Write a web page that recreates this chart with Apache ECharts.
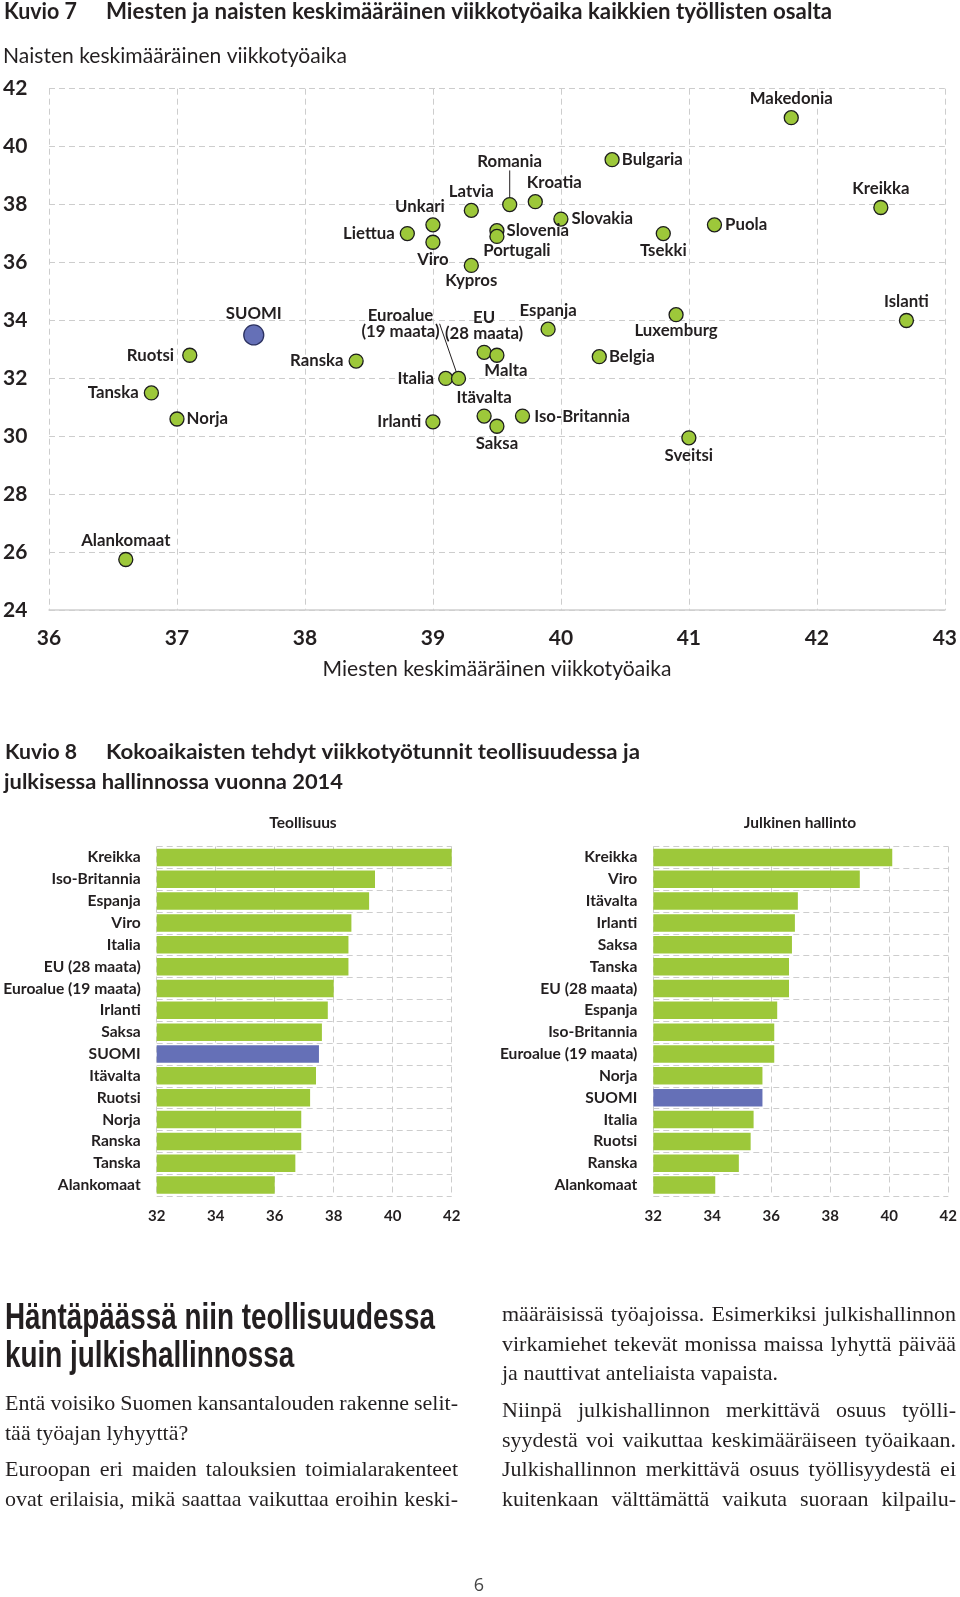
<!DOCTYPE html>
<html>
<head>
<meta charset="utf-8">
<script src="https://cdn.jsdelivr.net/npm/echarts@6/dist/echarts.min.js"></script>
<style>
html, body { margin: 0; padding: 0; background: #fff; }
#page { position: relative; width: 960px; height: 1597px; overflow: hidden; }
#chart { position: absolute; left: 0; top: 0; width: 960px; height: 1597px; }
#article { position: absolute; left: 0; top: 0; width: 960px; height: 1597px; pointer-events: none; }
.ln { position: absolute; white-space: nowrap; color: #231f20; }
</style>
</head>
<body>
<div id="page">
  <div id="chart"></div>
  <div id="article"></div>
</div>
<script>
// ---------------- DATA ----------------
// Kuvio 7: men's (x) and women's (y) average weekly hours
const scatterNames = ['Makedonia','Bulgaria','Kreikka','Romania','Kroatia','Latvia','Unkari','Slovakia','Slovenia','Liettua',
  'Puola','Portugali','Tsekki','Viro','Kypros','Islanti','Luxemburg','SUOMI','Espanja','EU (28 maata)',
  'Euroalue (19 maata)','Ruotsi','Ranska','Malta','Belgia','Italia','Tanska','Itävalta','Iso-Britannia','Norja',
  'Irlanti','Saksa','Sveitsi','Alankomaat'];
const menWeeklyHours = [41.8,40.4,42.5,39.6,39.8,39.3,39.0,40.0,39.5,38.8,
  41.2,39.5,40.8,39.0,39.3,42.7,40.9,37.6,39.9,39.4,
  39.2,37.1,38.4,39.5,40.3,39.1,36.8,39.4,39.7,37.0,
  39.0,39.5,41.0,36.6];
const womenWeeklyHours = [41.0,39.55,37.9,38.0,38.1,37.8,37.3,37.5,37.1,37.0,
  37.3,36.9,37.0,36.7,35.9,34.0,34.2,33.5,33.7,32.9,
  32.0,32.8,32.6,32.8,32.75,32.0,31.5,30.7,30.7,30.6,
  30.5,30.35,29.95,25.75];
const scatterXTicks = { min: 36, max: 43, step: 1 };
const scatterYTicks = { min: 24, max: 42, step: 2 };

// Kuvio 8: weekly hours of full-time workers, 2014
const industryCountries = ['Kreikka','Iso-Britannia','Espanja','Viro','Italia','EU (28 maata)','Euroalue (19 maata)','Irlanti',
  'Saksa','SUOMI','Itävalta','Ruotsi','Norja','Ranska','Tanska','Alankomaat'];
const industryHours = [42.0,39.4,39.2,38.6,38.5,38.5,38.0,37.8,37.6,37.5,37.4,37.2,36.9,36.9,36.7,36.0];
const publicCountries = ['Kreikka','Viro','Itävalta','Irlanti','Saksa','Tanska','EU (28 maata)','Espanja',
  'Iso-Britannia','Euroalue (19 maata)','Norja','SUOMI','Italia','Ruotsi','Ranska','Alankomaat'];
const publicHours = [40.1,39.0,36.9,36.8,36.7,36.6,36.6,36.2,36.1,36.1,35.7,35.7,35.4,35.3,34.9,34.1];
const barTicks = { min: 32, max: 42, step: 2 };

// Texts
const fig7Number = 'Kuvio 7';
const fig7Title = 'Miesten ja naisten keskimääräinen viikkotyöaika kaikkien työllisten osalta';
const fig7YName = 'Naisten keskimääräinen viikkotyöaika';
const fig7XName = 'Miesten keskimääräinen viikkotyöaika';
const fig8Number = 'Kuvio 8';
const fig8TitleLine1 = 'Kokoaikaisten tehdyt viikkotyötunnit teollisuudessa ja';
const fig8TitleLine2 = 'julkisessa hallinnossa vuonna 2014';
const fig8LeftTitle = 'Teollisuus';
const fig8RightTitle = 'Julkinen hallinto';
const pageNumber = '6';
const articleHeading = ['Häntäpäässä niin teollisuudessa', 'kuin julkishallinnossa'];
const leftParagraphs = [
  ['Entä voisiko Suomen kansantalouden rakenne selit-', 'tää työajan lyhyyttä?'],
  ['Euroopan eri maiden talouksien toimialarakenteet', 'ovat erilaisia, mikä saattaa vaikuttaa eroihin keski-']
];
const rightParagraphs = [
  ['määräisissä työajoissa. Esimerkiksi julkishallinnon', 'virkamiehet tekevät monissa maissa lyhyttä päivää', 'ja nauttivat anteliaista vapaista.'],
  ['Niinpä julkishallinnon merkittävä osuus työlli-', 'syydestä voi vaikuttaa keskimääräiseen työaikaan.',
   'Julkishallinnon merkittävä osuus työllisyydestä ei', 'kuitenkaan välttämättä vaikuta suoraan kilpailu-']
];

// ---------------- STYLE ----------------
const ink = '#231f20';
const green = '#9dc83a';
const blue = '#6570b7';
const gridColor = '#cdcdcd';
const sansFamily = 'Lato, "Noto Sans", sans-serif';
const highlight = 'SUOMI';

const labelText = { 'EU (28 maata)': 'EU\n(28 maata)', 'Euroalue (19 maata)': 'Euroalue\n(19 maata)' };
const labelPlacement = {
  'Makedonia': { pos: 'top' }, 'Bulgaria': { pos: 'right', dist: 2 }, 'Kreikka': { pos: 'top' },
  'Romania': { pos: 'top', leader: [0, -24] }, 'Kroatia': { pos: 'top', off: [19, 0] },
  'Latvia': { pos: 'top' }, 'Unkari': { pos: 'top', off: [-13, 0] }, 'Slovakia': { pos: 'right' },
  'Slovenia': { pos: 'right', dist: 2 }, 'Liettua': { pos: 'left', dist: 5 }, 'Puola': { pos: 'right' },
  'Portugali': { pos: 'bottom', off: [20, -5] }, 'Tsekki': { pos: 'bottom', off: [0, -2] }, 'Viro': { pos: 'bottom', off: [0, -1] },
  'Kypros': { pos: 'bottom', off: [0, -3] }, 'Islanti': { pos: 'top' }, 'Luxemburg': { pos: 'bottom', off: [0, -3] },
  'SUOMI': { pos: 'top' }, 'Espanja': { pos: 'top' }, 'EU (28 maata)': { pos: 'top' },
  'Euroalue (19 maata)': { pos: 'top', leader: [-58, -28] }, 'Ruotsi': { pos: 'left', dist: 8 },
  'Ranska': { pos: 'left', dist: 5 }, 'Malta': { pos: 'bottom', off: [9, -3] }, 'Belgia': { pos: 'right', dist: 2 },
  'Italia': { pos: 'left', dist: 4 }, 'Tanska': { pos: 'left', dist: 5 }, 'Itävalta': { pos: 'top' },
  'Iso-Britannia': { pos: 'right', dist: 4 }, 'Norja': { pos: 'right', dist: 2 }, 'Irlanti': { pos: 'left', dist: 4 },
  'Saksa': { pos: 'bottom', off: [0, -1] }, 'Sveitsi': { pos: 'bottom', off: [0, -1] }, 'Alankomaat': { pos: 'top' }
};

// ---------------- HELPERS ----------------
const mctx = document.createElement('canvas').getContext('2d');
function measure(text, font) { mctx.font = font; return mctx.measureText(text).width; }
function fittedText(text, font, x, y, targetW, align) {
  const s = targetW / measure(text, font);
  return { type: 'text', x: x, y: y, scaleX: s, silent: true,
    style: { text: text, font: font, fill: ink, align: align || 'left', verticalAlign: 'middle', x: 0, y: 0 } };
}

// ---------------- SCATTER DATA ----------------
const normalData = [], leaderData = [];
scatterNames.forEach((n, i) => {
  const p = labelPlacement[n] || { pos: 'top' };
  const item = {
    name: n, value: [menWeeklyHours[i], womenWeeklyHours[i]],
    label: { position: p.pos, offset: p.off || [0, 0], distance: p.dist != null ? p.dist : 3 }
  };
  if (n === highlight) { item.symbolSize = 20; item.itemStyle = { color: blue, borderColor: '#2b3160' }; }
  (p.leader ? leaderData : normalData).push(item);
});

const scatterLabel = {
  show: true, fontFamily: sansFamily, fontSize: 16.8, fontWeight: 'bold', color: ink, lineHeight: 16,
  formatter: p => labelText[p.name] || p.name
};

function barData(names, vals) {
  return vals.map((v, i) => ({ value: v, itemStyle: { color: names[i] === highlight ? blue : green } }));
}
const dashed = { color: gridColor, type: [6, 4], width: 1 };
function barValueAxis(gi) {
  return { gridIndex: gi, type: 'value', min: barTicks.min, max: barTicks.max, interval: barTicks.step, startValue: barTicks.min,
    axisLine: { show: false }, axisTick: { show: false }, splitLine: { show: true, lineStyle: dashed },
    axisLabel: { fontFamily: sansFamily, fontSize: 15, fontWeight: 'bold', color: ink, margin: 13 } };
}
function barCatAxis(gi, names) {
  return { gridIndex: gi, type: 'category', data: names, inverse: true,
    axisLine: { show: false }, axisTick: { show: false },
    splitLine: { show: true, interval: 0, lineStyle: dashed },
    axisLabel: { interval: 0, fontFamily: sansFamily, fontSize: 15.6, fontWeight: 'bold', color: ink, margin: 16 } };
}

// ---------------- GRAPHIC TEXTS ----------------
const graphics = [
  fittedText(fig7Number, 'bold 22px ' + sansFamily, 4, 12, 73),
  fittedText(fig7Title, 'bold 22px ' + sansFamily, 106, 12, 726),
  fittedText(fig7YName, '22px ' + sansFamily, 3, 56, 344),
  fittedText(fig7XName, '22px ' + sansFamily, 497, 669, 349, 'center'),
  fittedText(fig8Number, 'bold 21px ' + sansFamily, 5, 752, 72),
  fittedText(fig8TitleLine1, 'bold 21px ' + sansFamily, 106, 752, 534),
  fittedText(fig8TitleLine2, 'bold 21px ' + sansFamily, 4, 782, 339),
  { type: 'text', x: 303, y: 823, silent: true, style: { text: fig8LeftTitle, font: 'bold 15.5px ' + sansFamily, fill: ink, align: 'center', verticalAlign: 'middle' } },
  { type: 'text', x: 800, y: 823, silent: true, style: { text: fig8RightTitle, font: 'bold 15.5px ' + sansFamily, fill: ink, align: 'center', verticalAlign: 'middle' } },
  { type: 'text', x: 479, y: 1586, silent: true, style: { text: pageNumber, font: '18px "Open Sans", sans-serif', fill: '#444', align: 'center', verticalAlign: 'middle' } }
];

// ---------------- OPTION ----------------
const option = {
  backgroundColor: '#ffffff',
  animation: false,
  textStyle: { fontFamily: sansFamily },
  graphic: graphics,
  grid: [
    { left: 49, top: 88.7, width: 896.7, height: 521.5 },
    { left: 156.7, top: 846.5, width: 295, height: 349.5 },
    { left: 653.3, top: 846.5, width: 295, height: 349.5 }
  ],
  xAxis: [
    { gridIndex: 0, type: 'value', min: scatterXTicks.min, max: scatterXTicks.max, interval: scatterXTicks.step,
      axisLine: { show: true, lineStyle: { color: '#d0d0d0', width: 1.5 } }, axisTick: { show: false },
      splitLine: { show: true, lineStyle: dashed },
      axisLabel: { fontFamily: sansFamily, fontSize: 21, fontWeight: 'bold', color: ink, margin: 18 } },
    barValueAxis(1), barValueAxis(2)
  ],
  yAxis: [
    { gridIndex: 0, type: 'value', min: scatterYTicks.min, max: scatterYTicks.max, interval: scatterYTicks.step,
      axisLine: { show: false }, axisTick: { show: false }, splitLine: { show: true, lineStyle: dashed },
      axisLabel: { fontFamily: sansFamily, fontSize: 21, fontWeight: 'bold', color: ink, margin: 46, align: 'left' } },
    barCatAxis(1, industryCountries), barCatAxis(2, publicCountries)
  ],
  series: [
    { type: 'scatter', name: 'maat', xAxisIndex: 0, yAxisIndex: 0, symbolSize: 14, z: 3,
      itemStyle: { color: green, borderColor: '#1c1c1c', borderWidth: 1.3, opacity: 1 },
      label: scatterLabel, data: normalData },
    { type: 'scatter', name: 'maat-viiva', xAxisIndex: 0, yAxisIndex: 0, symbolSize: 14, z: 3,
      itemStyle: { color: green, borderColor: '#1c1c1c', borderWidth: 1.3, opacity: 1 },
      label: scatterLabel, data: leaderData,
      labelLine: { show: true, lineStyle: { color: ink, width: 1 } },
      labelLayout: function (params) {
        const d = leaderData[params.dataIndex];
        const sh = labelPlacement[d.name].leader;
        return { dx: sh[0], dy: sh[1] };
      } },
    { type: 'bar', name: 'Teollisuus', xAxisIndex: 1, yAxisIndex: 1, barWidth: 17.5, clip: true,
      data: barData(industryCountries, industryHours) },
    { type: 'bar', name: 'Julkinen hallinto', xAxisIndex: 2, yAxisIndex: 2, barWidth: 17.5, clip: true,
      data: barData(publicCountries, publicHours) }
  ]
};

const chart = echarts.init(document.getElementById('chart'), null, { renderer: 'canvas', width: 960, height: 1597 });
chart.setOption(option);

// ---------------- ARTICLE TEXT (HTML) ----------------
const art = document.getElementById('article');
function addLine(text, font, x, cy, lh, opts) {
  const d = document.createElement('div');
  d.className = 'ln';
  d.textContent = text;
  d.style.font = font;
  d.style.left = x + 'px';
  d.style.top = (cy - lh / 2) + 'px';
  d.style.height = lh + 'px';
  d.style.lineHeight = lh + 'px';
  if (opts && opts.justifyTo) {
    const spaces = (text.match(/ /g) || []).length;
    const nat = measure(text, font);
    if (spaces > 0) d.style.wordSpacing = ((opts.justifyTo - nat) / spaces) + 'px';
  }
  if (opts && opts.scaleX) { d.style.transformOrigin = '0 50%'; d.style.transform = 'scaleX(' + opts.scaleX + ')'; }
  art.appendChild(d);
}
const headFont = 'bold 36px "Liberation Sans Narrow", "Liberation Sans", Arial, sans-serif';
const headScale = 430 / measure(articleHeading[0], headFont);
articleHeading.forEach((t, i) => addLine(t, headFont, 5, 1317 + i * 38, 40, { scaleX: headScale }));

const bodyFont = '22px "Liberation Serif", "DejaVu Serif", serif';
function layoutColumn(paras, x, width, starts, lh) {
  paras.forEach((lines, pi) => {
    lines.forEach((t, li) => {
      const isLast = li === lines.length - 1;
      const justify = !isLast || /-$/.test(t);
      addLine(t, bodyFont, x, starts[pi] + li * lh, 30, justify ? { justifyTo: width } : null);
    });
  });
}
layoutColumn(leftParagraphs, 5, 453, [1403, 1469], 29.6);
layoutColumn(rightParagraphs, 502, 454, [1314, 1410], 29.6);
</script>
</body>
</html>
